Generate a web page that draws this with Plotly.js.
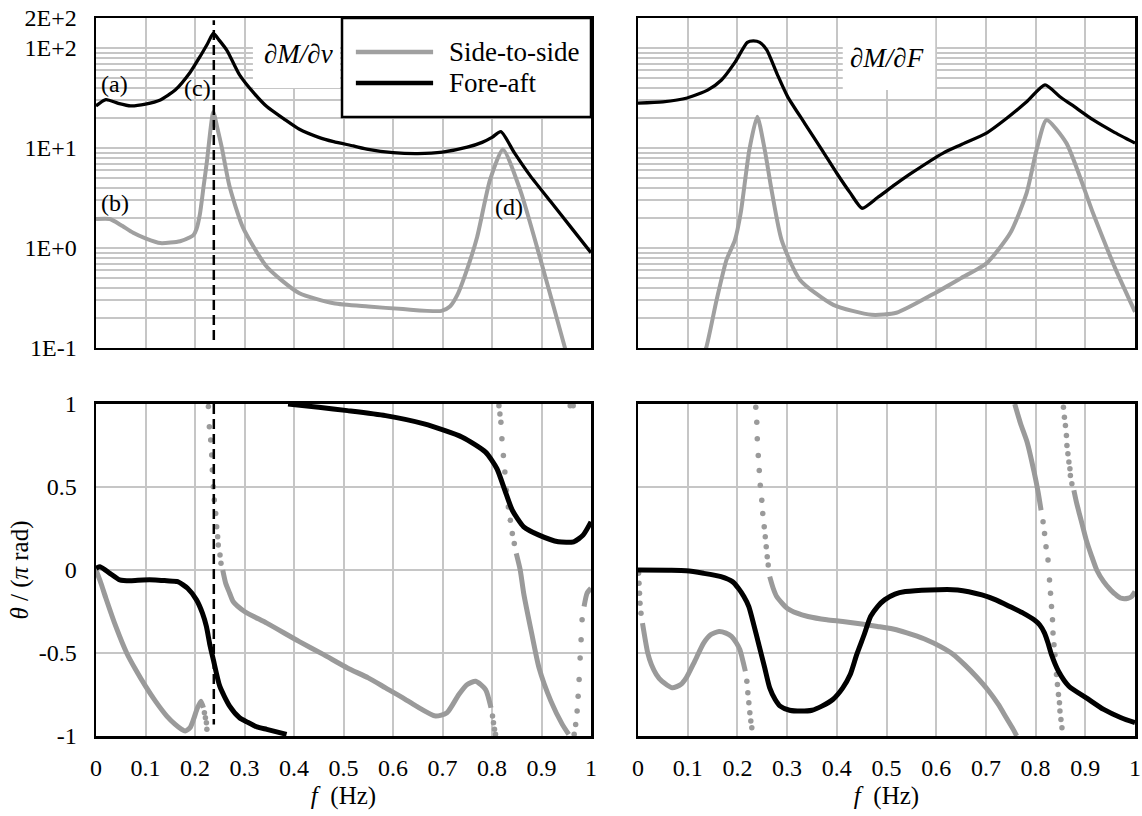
<!DOCTYPE html>
<html><head><meta charset="utf-8">
<script src="https://cdn.plot.ly/plotly-3.0.1.min.js"></script>
<style>html,body{margin:0;padding:0;background:#fff}#chart{width:1142px;height:816px}</style>
</head><body><div id="chart"></div>
<script>
// ---------- data: magnitude, dM/dv (top-left) ----------
const fMagFA_v = [0, 0.02, 0.045, 0.07, 0.1, 0.13, 0.16, 0.19, 0.21, 0.225, 0.237, 0.25, 0.265, 0.29, 0.32, 0.345, 0.38, 0.41, 0.45, 0.48, 0.52, 0.55, 0.6, 0.65, 0.7, 0.75, 0.78, 0.8, 0.818, 0.845, 0.877, 0.92, 0.96, 1.0];
const magFA_v = [26.4, 30.5, 28, 26.4, 27.5, 30.3, 38, 57, 82, 110, 140, 118, 94, 54, 35, 26, 19.5, 15.5, 12.8, 11.6, 10.5, 9.7, 9.0, 8.8, 9.1, 10.2, 11.4, 12.8, 14.6, 9.0, 5.3, 2.85, 1.6, 0.9];
const fMagSS_v = [0, 0.028, 0.05, 0.075, 0.1, 0.13, 0.17, 0.19, 0.197, 0.203, 0.21, 0.217, 0.224, 0.237, 0.245, 0.254, 0.27, 0.297, 0.345, 0.41, 0.48, 0.55, 0.62, 0.698, 0.715, 0.73, 0.75, 0.77, 0.796, 0.822, 0.857, 0.897, 0.943, 0.96];
const magSS_v = [1.95, 1.95, 1.7, 1.42, 1.25, 1.12, 1.17, 1.28, 1.35, 1.55, 2.2, 4.0, 7.3, 23, 16, 10.2, 4.1, 1.6, 0.65, 0.355, 0.28, 0.26, 0.245, 0.235, 0.26, 0.34, 0.62, 1.29, 4.8, 9.7, 3.8, 0.8, 0.12, 0.06];

// ---------- data: magnitude, dM/dF (top-right) ----------
const fMagFA_F = [0, 0.05, 0.099, 0.14, 0.168, 0.195, 0.22, 0.232, 0.245, 0.259, 0.28, 0.301, 0.335, 0.37, 0.4, 0.427, 0.451, 0.482, 0.517, 0.55, 0.614, 0.65, 0.702, 0.74, 0.782, 0.819, 0.849, 0.873, 0.916, 0.956, 1.0];
const magFA_F = [28.2, 29, 31.7, 38, 48, 72, 114, 118, 114, 96, 55, 32.7, 17.8, 9.6, 5.6, 3.56, 2.5, 3.2, 4.3, 5.6, 8.9, 10.8, 14.2, 19.5, 29, 42.8, 32.6, 27, 19.1, 14.6, 11.2];
const fMagSS_F = [0.13, 0.137, 0.158, 0.178, 0.195, 0.207, 0.224, 0.24, 0.255, 0.27, 0.289, 0.326, 0.393, 0.47, 0.52, 0.6, 0.65, 0.702, 0.749, 0.782, 0.802, 0.822, 0.862, 0.916, 0.96, 1.0];
const magSS_F = [0.085, 0.1, 0.30, 0.76, 1.2, 2.3, 9.6, 20.6, 9.6, 3.5, 1.2, 0.48, 0.27, 0.215, 0.225, 0.36, 0.5, 0.71, 1.41, 3.56, 9.6, 19.1, 11.2, 2.2, 0.63, 0.23];

// ---------- data: phase, dM/dv (bottom-left), theta / pi ----------
const fPhFA_v = [0, 0.008, 0.028, 0.048, 0.07, 0.095, 0.12, 0.143, 0.165, 0.185, 0.203, 0.215, 0.223, 0.23, 0.237, 0.25, 0.27, 0.29, 0.305, 0.325, 0.345, 0.365, 0.385, null, 0.388, 0.45, 0.508, 0.585, 0.663, 0.74, 0.787, 0.81, 0.826, 0.841, 0.864, 0.895, 0.934, 0.965, 0.984, 1.0];
const phFA_v = [0.01, 0.02, -0.02, -0.06, -0.065, -0.06, -0.06, -0.065, -0.07, -0.11, -0.18, -0.26, -0.34, -0.45, -0.54, -0.70, -0.82, -0.89, -0.915, -0.945, -0.96, -0.975, -0.99, null, 1.0, 0.98, 0.96, 0.93, 0.88, 0.80, 0.71, 0.61, 0.48, 0.36, 0.26, 0.21, 0.17, 0.17, 0.21, 0.29];
const fPhSS_v = [0, 0.01, 0.02, 0.04, 0.062, 0.08, 0.1, 0.12, 0.143, 0.16, 0.173, 0.18, 0.19, 0.197, 0.205, 0.212, 0.217, null,
  0.256, 0.262, 0.27, 0.277, 0.3, 0.345, 0.41, 0.46, 0.508, 0.55, 0.585, 0.62, 0.647, 0.686, 0.709, 0.733, 0.75, 0.767, 0.787, 0.798, null,
  0.849, 0.857, 0.864, 0.88, 0.895, 0.919, 0.942, 0.955, null,
  0.986, 0.992, 1.0];
const phSS_v = [0, -0.08, -0.17, -0.34, -0.5, -0.6, -0.7, -0.79, -0.88, -0.93, -0.96, -0.97, -0.95, -0.9, -0.83, -0.79, -0.83, null,
  0.0, -0.08, -0.14, -0.19, -0.25, -0.32, -0.43, -0.51, -0.59, -0.65, -0.71, -0.77, -0.82, -0.88, -0.86, -0.75, -0.69, -0.67, -0.72, -0.83, null,
  0.10, 0.0, -0.14, -0.38, -0.59, -0.79, -0.93, -0.99, null,
  -0.22, -0.14, -0.11];
const fDotSS_v = [0.219, 0.221, 0.223, 0.224,
  0.227, 0.229, 0.2317, 0.2337, 0.235, 0.237, 0.239, 0.2418, 0.2438, 0.2458, 0.247, 0.2505, 0.2525,
  0.801, 0.803, 0.805, 0.807,
  0.814, 0.816, 0.818, 0.82, 0.823, 0.826, 0.829, 0.833, 0.837, 0.841, 0.845,
  0.958, 0.961, 0.964, 0.966, 0.969, 0.972, 0.974, 0.976, 0.978, 0.98, 0.982];
const dotSS_v = [-0.86, -0.89, -0.92, -0.96,
  0.985, 0.863, 0.783, 0.693, 0.602, 0.502, 0.422, 0.341, 0.261, 0.2, 0.15, 0.09, 0.04,
  -0.88, -0.92, -0.96, -0.99,
  0.99, 0.94, 0.89, 0.79, 0.69, 0.59, 0.48, 0.38, 0.30, 0.22, 0.16,
  0.99, 0.995, 0.99, -0.99, -0.93, -0.85, -0.76, -0.66, -0.53, -0.42, -0.30];

// ---------- data: phase, dM/dF (bottom-right) ----------
const fPhFA_F = [0, 0.062, 0.097, 0.132, 0.167, 0.19, 0.202, 0.213, 0.223, 0.233, 0.244, 0.255, 0.265, 0.276, 0.286, 0.305, 0.328, 0.35, 0.37, 0.392, 0.412, 0.427, 0.44, 0.455, 0.468, 0.482, 0.496, 0.517, 0.538, 0.587, 0.643, 0.692, 0.72, 0.748, 0.775, 0.797, 0.808, 0.818, 0.825, 0.832, 0.846, 0.867, 0.902, 0.937, 0.972, 1.0];
const phFA_F = [0.0, -0.002, -0.005, -0.02, -0.04, -0.07, -0.11, -0.16, -0.22, -0.33, -0.46, -0.59, -0.71, -0.78, -0.82, -0.845, -0.85, -0.845, -0.82, -0.78, -0.71, -0.63, -0.51, -0.39, -0.28, -0.22, -0.18, -0.145, -0.13, -0.12, -0.12, -0.15, -0.18, -0.22, -0.26, -0.30, -0.33, -0.38, -0.44, -0.51, -0.61, -0.70, -0.77, -0.84, -0.89, -0.92];
const fPhSS_F = [0.009, 0.0196, 0.027, 0.037, 0.048, 0.069, 0.086, 0.097, 0.114, 0.132, 0.146, 0.163, 0.177, 0.188, 0.198, 0.205, 0.212, 0.216, null,
  0.265, 0.272, 0.279, 0.29, 0.3, 0.32, 0.342, 0.38, 0.412, 0.45, 0.482, 0.52, 0.552, 0.58, 0.608, 0.635, 0.657, 0.68, 0.706, 0.725, 0.741, 0.755, 0.762, null,
  0.758, 0.77, 0.783, 0.797, 0.805, 0.811, null,
  0.877, 0.882, 0.888, 0.895, 0.902, 0.912, 0.923, 0.937, 0.951, 0.962, 0.972, 0.986, 0.993, 1.0];
const phSS_F = [-0.32, -0.5, -0.57, -0.63, -0.67, -0.71, -0.69, -0.65, -0.55, -0.44, -0.39, -0.37, -0.38, -0.40, -0.44, -0.48, -0.56, -0.61, null,
  -0.04, -0.11, -0.16, -0.2, -0.23, -0.26, -0.28, -0.3, -0.31, -0.325, -0.34, -0.36, -0.39, -0.42, -0.46, -0.51, -0.57, -0.64, -0.73, -0.81, -0.89, -0.96, -1.0, null,
  1.0, 0.88, 0.77, 0.59, 0.47, 0.36, null,
  0.48, 0.41, 0.34, 0.26, 0.18, 0.09, 0.0, -0.07, -0.12, -0.15, -0.17, -0.17, -0.16, -0.13];
const fDotSS_F = [0.001, 0.002, 0.003, 0.004, 0.006,
  0.219, 0.221, 0.223, 0.225, 0.227, 0.229,
  0.237, 0.239, 0.24, 0.242, 0.244, 0.246, 0.249, 0.251, 0.254, 0.256, 0.258, 0.26, 0.262,
  0.815, 0.818, 0.821, 0.825, 0.828, 0.830, 0.832, 0.834, 0.835, 0.837, 0.839, 0.842, 0.844, 0.846, 0.848, 0.849, 0.851, 0.853,
  0.856, 0.858, 0.86, 0.862, 0.863, 0.865, 0.867, 0.869, 0.87, 0.873];
const dotSS_F = [-0.02, -0.08, -0.14, -0.2, -0.26,
  -0.67, -0.74, -0.8, -0.86, -0.91, -0.95,
  0.98, 0.89, 0.79, 0.69, 0.60, 0.51, 0.42, 0.34, 0.26, 0.20, 0.14, 0.08, 0.03,
  0.29, 0.22, 0.14, 0.06, -0.06, -0.14, -0.22, -0.30, -0.38, -0.45, -0.51, -0.63, -0.69, -0.75, -0.80, -0.85, -0.90, -0.95,
  0.98, 0.92, 0.87, 0.81, 0.75, 0.70, 0.65, 0.61, 0.57, 0.52];

// ---------- reference line and tick labels ----------
const resonanceF = 0.238;
const dashMagY = [0.12, 190];
const dashPhY = [1, -0.93];
const magTickVals = [0.1, 1, 10, 100, 200];
const magTickText = ['1E-1', '1E+0', '1E+1', '1E+2', '2E+2'];
const magMinorVals = [0.2,0.3,0.4,0.5,0.6,0.7,0.8,0.9,2,3,4,5,6,7,8,9,20,30,40,50,60,70,80,90];
const phTickVals = [-1, -0.5, 0, 0.5, 1];
const phTickText = ['-1', '-0.5', '0', '0.5', '1'];
const seriesNames = ['Side-to-side', 'Fore-aft'];

// ---------- styling ----------
const FONT = 'Liberation Serif';
const GREY = '#a0a0a0';
const DOTGREY = '#9a9a9a';
const GRID = '#c6c6c6';

function magLine(x, y, xa, ya, color, width, name) {
  return {x, y, xaxis: xa, yaxis: ya, type: 'scatter', mode: 'lines', name, showlegend: false,
    line: {color, width, shape: 'spline', smoothing: 0.6}, hoverinfo: 'skip'};
}
function dots(x, y, xa, ya) {
  return {x, y, xaxis: xa, yaxis: ya, type: 'scatter', mode: 'markers', name: seriesNames[0], showlegend: false,
    marker: {color: DOTGREY, size: 5.5}, hoverinfo: 'skip', cliponaxis: true};
}
function dashTrace(y, xa, ya) {
  return {x: [resonanceF, resonanceF], y, xaxis: xa, yaxis: ya, type: 'scatter', mode: 'lines', showlegend: false,
    line: {color: '#000', width: 2.5, dash: '10px,5px'}, hoverinfo: 'skip'};
}

const data = [
  magLine(fMagSS_v, magSS_v, 'x', 'y', GREY, 4, seriesNames[0]),
  magLine(fMagFA_v, magFA_v, 'x', 'y', '#000', 3.3, seriesNames[1]),
  dashTrace(dashMagY, 'x', 'y'),
  magLine(fMagSS_F, magSS_F, 'x2', 'y2', GREY, 4, seriesNames[0]),
  magLine(fMagFA_F, magFA_F, 'x2', 'y2', '#000', 3.3, seriesNames[1]),
  magLine(fPhSS_v, phSS_v, 'x3', 'y3', DOTGREY, 5, seriesNames[0]),
  dots(fDotSS_v, dotSS_v, 'x3', 'y3'),
  magLine(fPhFA_v, phFA_v, 'x3', 'y3', '#000', 5, seriesNames[1]),
  dashTrace(dashPhY, 'x3', 'y3'),
  magLine(fPhSS_F, phSS_F, 'x4', 'y4', DOTGREY, 5, seriesNames[0]),
  dots(fDotSS_F, dotSS_F, 'x4', 'y4'),
  magLine(fPhFA_F, phFA_F, 'x4', 'y4', '#000', 5, seriesNames[1])
];

const tickFont = {family: FONT, size: 24, color: '#000'};
function baseAxis(extra) {
  return Object.assign({showline: true, linecolor: '#000', linewidth: 2.5, mirror: true,
    showgrid: true, gridcolor: GRID, gridwidth: 2, zeroline: false, ticks: '',
    tickfont: tickFont, fixedrange: true}, extra);
}
function xAxis(domain, labels, anchor, title) {
  const a = baseAxis({domain, anchor, range: [0, 1], tickmode: 'linear', tick0: 0, dtick: 0.1,
    showticklabels: labels, ticklabelstandoff: 9});
  if (title) a.title = {text: title, font: {family: FONT, size: 25, color: '#000'}, standoff: 6};
  return a;
}
function magAxis(domain, labels, anchor) {
  return baseAxis({domain, anchor, type: 'log', range: [-1, Math.log10(200)], tickmode: 'array',
    tickvals: magTickVals, ticktext: magTickText, showticklabels: labels, ticklabelstandoff: 12,
    minor: {tickmode: 'array', tickvals: magMinorVals, showgrid: true, gridcolor: GRID, gridwidth: 2, ticks: ''}});
}
function phAxis(domain, labels, anchor, title) {
  const a = baseAxis({domain, anchor, range: [-1, 1], tickmode: 'array', tickvals: phTickVals, ticktext: phTickText,
    showticklabels: labels, ticklabelstandoff: 12});
  if (title) a.title = {text: title, font: {family: FONT, size: 25, color: '#000'}, standoff: 3};
  return a;
}

const XL = [0, 0.47642], XR = [0.52166, 1];
const YT = [0.54039, 1], YB = [0, 0.4624];

const whiteBox = (xref, yref, x0, x1, y0, y1, border) => ({type: 'rect', xref, yref, x0, x1, y0, y1,
  fillcolor: '#fff', line: {color: border ? '#000' : 'rgba(0,0,0,0)', width: border ? 2.5 : 0}, layer: 'above'});
const legLine = (y, color) => ({type: 'line', xref: 'x domain', yref: 'y domain', x0: 0.525, x1: 0.681, y0: y, y1: y,
  line: {color, width: 4.5}, layer: 'above'});

const annFont = {family: FONT, size: 24, color: '#000'};
const ann = (xref, yref, x, y, text, size, xanchor) => ({xref, yref, x, y, text, showarrow: false,
  xanchor: xanchor || 'center', yanchor: 'middle', font: Object.assign({}, annFont, {size: size || 24})});

const layout = {
  width: 1142, height: 816,
  margin: {l: 96, r: 7, t: 18, b: 80},
  paper_bgcolor: '#fff', plot_bgcolor: '#fff',
  showlegend: false,
  font: {family: FONT, color: '#000'},
  xaxis: xAxis(XL, false, 'y'),
  yaxis: magAxis(YT, true, 'x'),
  xaxis2: xAxis(XR, false, 'y2'),
  yaxis2: magAxis(YT, false, 'x2'),
  xaxis3: xAxis(XL, true, 'y3', '<i>f</i>  (Hz)'),
  yaxis3: phAxis(YB, true, 'x3', '<i>θ</i> / (<i>π</i> rad)'),
  xaxis4: xAxis(XR, true, 'y4', '<i>f</i>  (Hz)'),
  yaxis4: phAxis(YB, false, 'x4'),
  shapes: [
    whiteBox('x domain', 'y domain', 0.317, 0.493, 0.788, 1, false),
    whiteBox('x domain', 'y domain', 0.497, 1, 0.70, 1, true),
    whiteBox('x2 domain', 'y2 domain', 0.412, 0.598, 0.782, 1, false),
    legLine(0.897, GREY),
    legLine(0.803, '#000')
  ],
  annotations: [
    ann('x domain', 'y domain', 0.41, 0.89, '<i>∂M/∂v</i>', 27),
    ann('x2 domain', 'y2 domain', 0.50, 0.88, '<i>∂M/∂F</i>', 27),
    ann('x domain', 'y domain', 0.709, 0.897, seriesNames[0], 27, 'left'),
    ann('x domain', 'y domain', 0.709, 0.803, seriesNames[1], 27, 'left'),
    ann('x domain', 'y domain', 0.006, 0.80, '(a)', 24, 'left'),
    ann('x domain', 'y domain', 0.006, 0.439, '(b)', 24, 'left'),
    ann('x domain', 'y domain', 0.206, 0.788, '(c)', 24),
    ann('x domain', 'y domain', 0.834, 0.427, '(d)', 24)
  ]
};

Plotly.newPlot('chart', data, layout, {staticPlot: true, displayModeBar: false});
</script></body></html>
